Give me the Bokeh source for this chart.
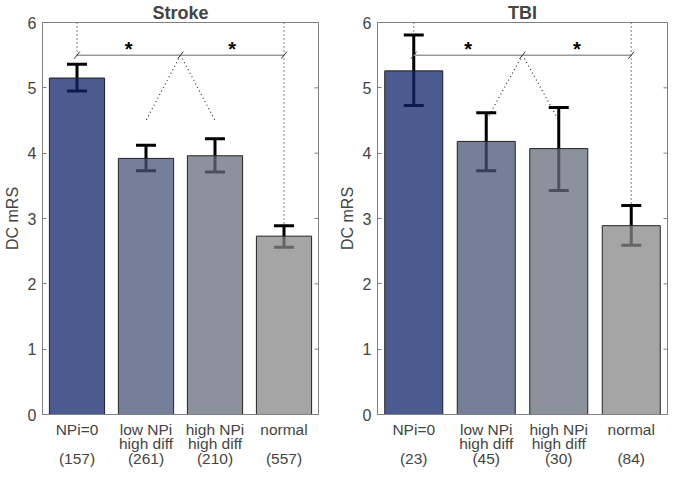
from bokeh.plotting import figure
from bokeh.layouts import row
from bokeh.models import Range1d, FixedTicker
from bokeh.core.properties import value
from bokeh.embed import file_html
from bokeh.resources import INLINE

# ---- data ----
categories = ["NPi=0", "low NPi\nhigh diff", "high NPi\nhigh diff", "normal"]

stroke_n = [157, 261, 210, 557]
stroke_mean = [5.15, 3.92, 3.96, 2.73]
stroke_lo = [4.95, 3.73, 3.71, 2.56]
stroke_hi = [5.36, 4.12, 4.22, 2.89]

tbi_n = [23, 45, 30, 84]
tbi_mean = [5.26, 4.18, 4.07, 2.89]
tbi_lo = [4.73, 3.73, 3.43, 2.59]
tbi_hi = [5.81, 4.62, 4.70, 3.20]

y_ticks = [0, 1, 2, 3, 4, 5, 6]
y_min, y_max = 0, 6
bracket_y = 5.5        # significance bracket level
diag_end_y = 4.5       # end of dotted lines from the middle of the bracket
star_y = 5.6

# styles
bar_colors = ["#0f236a", "#485478", "#666e7b", "#878787"]  # drawn with alpha 0.75
FONT = "Liberation Sans"
AX = "#808080"


def tick_label(cat, n):
    lines = cat.split("\n")
    while len(lines) < 2:
        lines.append("")
    return "\n".join(lines + ["(%d)" % n])


def panel(title, means, lo, hi, ns, width, left, right):
    xs = [i + 1 for i in range(len(categories))]
    x_end = len(categories) + 0.5
    p = figure(width=width, height=470, output_backend="svg", toolbar_location=None,
               x_range=Range1d(0.5, x_end), y_range=Range1d(y_min, y_max),
               min_border_left=left, min_border_right=right,
               min_border_top=10, min_border_bottom=0)
    p.title.text = title
    p.title.align = "center"
    p.title.text_font = FONT
    p.title.text_font_size = "18px"
    p.title.text_font_style = "bold"
    p.title.standoff = 0
    p.xgrid.visible = False
    p.ygrid.visible = False
    p.outline_line_color = AX
    p.outline_line_width = 1
    p.background_fill_color = "white"
    p.border_fill_color = "white"

    # y axis
    ya = p.yaxis[0]
    ya.ticker = FixedTicker(ticks=y_ticks)
    ya.axis_label = "DC mRS"
    ya.axis_label_text_font = FONT
    ya.axis_label_text_font_size = "16px"
    ya.axis_label_text_font_style = "normal"
    ya.axis_label_standoff = 4
    ya.major_label_text_font = FONT
    ya.major_label_text_font_size = "16px"
    ya.major_label_standoff = 6
    ya.major_tick_in = 4
    ya.major_tick_out = 0
    ya.minor_tick_line_color = None
    ya.axis_line_color = AX
    ya.major_tick_line_color = AX

    # right-hand inward tick marks (half of each dash is clipped by the frame)
    p.scatter(x=[x_end] * len(y_ticks), y=y_ticks, marker="dash", size=8,
              line_color=AX, line_width=1)

    # x axis: category names + counts
    xa = p.xaxis[0]
    xa.ticker = FixedTicker(ticks=xs)
    xa.major_label_overrides = {x: tick_label(c, n) for x, c, n in zip(xs, categories, ns)}
    xa.major_label_text_font = FONT
    xa.major_label_text_font_size = "15.5px"
    xa.major_label_text_line_height = 0.88
    xa.major_label_standoff = 6
    xa.axis_label_standoff = 0
    xa.major_tick_in = 0
    xa.major_tick_out = 0
    xa.major_tick_line_color = None
    xa.minor_tick_line_color = None
    xa.axis_line_color = AX

    # dotted guide lines
    mid = (xs[1] + xs[2]) / 2
    p.segment(x0=[xs[0], xs[-1]], y0=[y_max, y_max], x1=[xs[0], xs[-1]], y1=[bracket_y, hi[-1]],
              line_color="#333333", line_width=1.2, line_dash="1 3")
    p.segment(x0=[mid, mid], y0=[bracket_y, bracket_y], x1=[xs[1], xs[2]], y1=[diag_end_y, diag_end_y],
              line_color="#333333", line_width=1.2, line_dash="1 3")

    # error bars (drawn first, bars overlay with alpha)
    p.segment(x0=xs, y0=lo, x1=xs, y1=hi, line_color="black", line_width=3)
    p.scatter(x=xs + xs, y=list(lo) + list(hi), marker="dash", size=20,
              line_color="black", line_width=3)

    # bars
    p.vbar(x=xs, top=means, bottom=y_min, width=0.8, fill_color=bar_colors, fill_alpha=0.75,
           line_color="#222222", line_width=1)

    # significance bracket
    p.segment(x0=[xs[0]], y0=[bracket_y], x1=[xs[-1]], y1=[bracket_y],
              line_color="#999999", line_width=1.5)
    p.scatter(x=[xs[0], mid, xs[-1]], y=[bracket_y] * 3, marker="dash", angle=0.9,
              size=9, line_color="#333333", line_width=1)
    p.text(x=[(xs[0] + mid) / 2, (mid + xs[-1]) / 2], y=[star_y, star_y], text=["*", "*"],
           text_font=value(FONT), text_font_size="20px", text_font_style="bold",
           text_align="center", text_baseline="middle", text_color="black")
    return p


p1 = panel("Stroke", stroke_mean, stroke_lo, stroke_hi, stroke_n, 331, 34, 13)
p2 = panel("TBI", tbi_mean, tbi_lo, tbi_hi, tbi_n, 338, 46, 2)

layout = row(p1, p2)
open("out.html", "w").write(file_html(layout, INLINE))
